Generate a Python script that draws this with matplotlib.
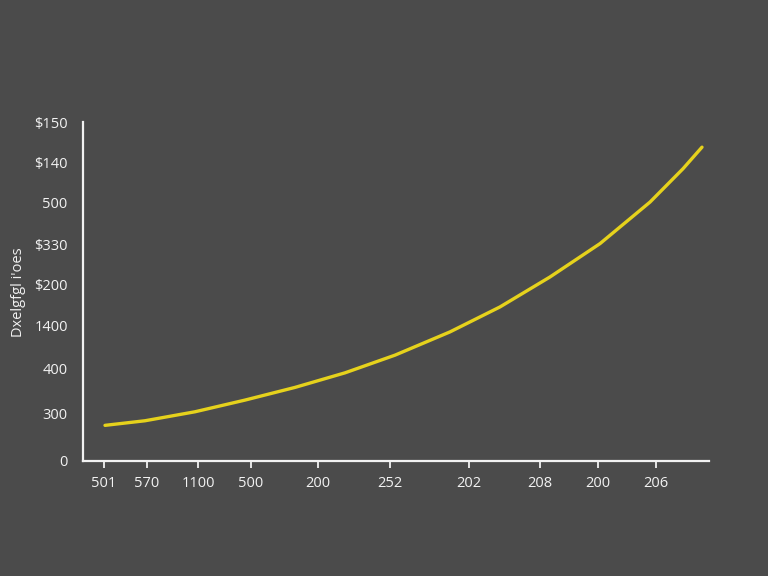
import matplotlib
matplotlib.use("Agg")
import matplotlib.pyplot as plt

# =============================================================================
# data (x and y in axis units, origin at the axes corner)
# =============================================================================
x_ticks = [21, 64, 115, 168, 235, 307, 386, 457, 515, 573]
x_labels = ["501", "570", "1100", "500", "200", "252", "202", "208", "200", "206"]
y_ticks = [0, 48, 93, 136, 177, 217, 259, 299, 339]
y_labels = ["0", "300", "400", "1400", "$200", "$330", "500", "$140", "$150"]
y_title = "Dxelgfgl i'oes"

curve_x = [22, 62, 112, 162, 212, 262, 312, 367, 417, 467, 517, 567, 600, 619]
curve_y = [35.7, 40.3, 49.3, 61, 73.7, 88.3, 106, 129.3, 154.3, 184.3, 217.7,
           259.3, 292.7, 314.3]

bg = "#4b4b4b"
fg = "#f2f2f2"
plt.rcParams['font.family'] = ['Open Sans', 'DejaVu Sans']

fig = plt.figure(figsize=(7.68, 5.76), dpi=100, facecolor=bg)
ax = fig.add_axes([83 / 768, 115 / 576, 625.6 / 768, 338.5 / 576], facecolor=bg)

ax.plot(curve_x, curve_y, color="#e6d21c", lw=2.4, solid_capstyle="round",
        solid_joinstyle="round", zorder=3)

ax.set_xlim(0, 625.6)
ax.set_ylim(0, 338.5)

for s in ["top", "right"]:
    ax.spines[s].set_visible(False)
for s in ["left", "bottom"]:
    ax.spines[s].set_color(fg)
    ax.spines[s].set_linewidth(1.6)

ax.set_xticks(x_ticks)
ax.set_xticklabels(x_labels)
ax.set_yticks(y_ticks)
ax.set_yticklabels(y_labels)
ax.tick_params(axis="x", colors=fg, length=5, width=1.3, pad=6, labelsize=10.5)
ax.tick_params(axis="y", colors=fg, length=0, pad=11, labelsize=10.5)

ax.set_ylabel(y_title, color=fg, fontsize=10.5)
ax.yaxis.set_label_coords(-57 / 625.6, 0.5)

fig.savefig("out.png", dpi=100, facecolor=bg)
